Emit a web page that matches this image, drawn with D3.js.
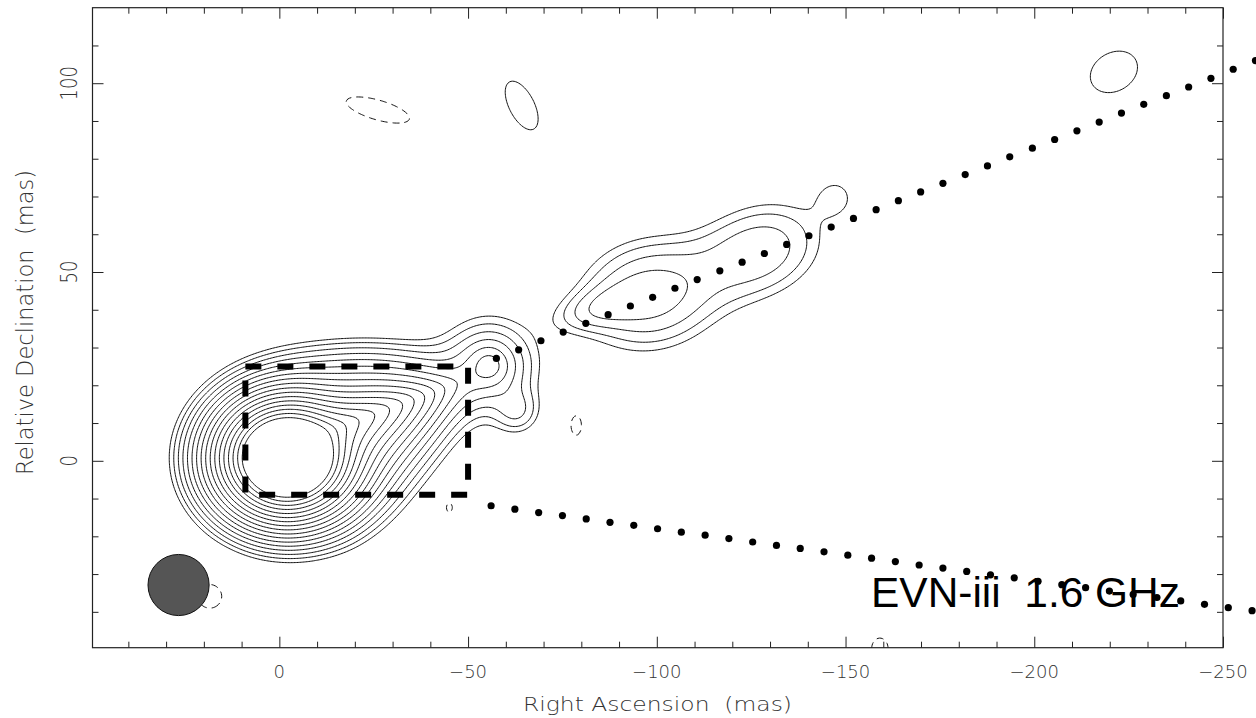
<!DOCTYPE html>
<html>
<head>
<meta charset="utf-8">
<title>EVN-iii 1.6 GHz</title>
<script src="https://d3js.org/d3.v7.min.js"></script>
<style>
  body { margin: 0; background: #fff; }
  svg { display: block; }
</style>
</head>
<body>
<script>
var width = 1256, height = 718;

// contour levels, in units of the lowest contour (the -1 one is drawn dashed)
var posLevels = [1, 1.41, 2, 2.83, 4, 5.66, 8, 11.3, 16, 22.6, 32, 45.3, 64, 90.5, 128, 181, 256];
var negLevels = [1];

// brightness components
// [ra, dec (mas), peak, profile (1 = exponential, 2 = gaussian, 3 = gaussian along / exponential across),
//  size forward, backward, up, down (mas), angle (deg from image right), core softening]
var coreComps = [
  [-2, 0.8, 7330, 1, 3.5, 3.5, 3.1, 3.1, 0, 0],
  [-12, 7.5, 95, 3, 14.5, 10, 3.4, 5.0, 20, 3],
  [-22, 22, 3, 2, 14, 14, 6, 6, 0, 0]
];
var knotComps = [
  [-55.6, 25.3, 6.8, 1, 6, 6, 6, 6, 0, 0.25],
  [-63, 13, 1.5, 2, 4, 4, 4, 4, 0, 0]
];
var jetComps = [
  [-98, 44, 3.3, 2, 12, 12, 9.5, 9.5, 10, 0],
  [-127, 55.5, 2.55, 2, 12, 12, 8.5, 8.5, 20, 0],
  [-85, 40.5, 1.6, 2, 8, 8, 3.5, 3.5, 15, 0],
  [-147.5, 70, 1.05, 2, 4.4, 4.4, 4.4, 4.4, 0, 0]
];
var islandComps = [
  [-26.1, 92.9, -1.3, 2, 12, 12, 3.6, 3.6, -16, 0],
  [-64.2, 94.1, 1.3, 2, 9.7, 9.7, 4.6, 4.6, -63, 0],
  [-221.1, 103.0, 1.3, 2, 9.1, 9.1, 7.0, 7.0, 30, 0],
  [-78.6, 9.5, -1.3, 2, 2.3, 2.3, 4.3, 4.3, 0, 0],
  [-45, -12.3, -1.3, 2, 1.5, 1.5, 2.3, 2.3, 0, 0],
  [18.4, -35.8, -1.3, 2, 4.5, 4.5, 4.5, 4.5, 0, 0],
  [-159.1, -49.7, -1.3, 2, 3, 3, 3.8, 3.8, 0, 0]
];

// model jet path, dots [ra, dec]
var upperDots = [[-57.5,27.1],[-63.4,29.4],[-69.3,31.8],[-75.2,34.1],[-81.2,36.4],[-87.1,38.7],
  [-93.0,41.0],[-98.9,43.3],[-104.8,45.7],[-110.7,48.0],[-116.7,50.3],[-122.6,52.6],[-128.5,54.9],
  [-134.4,57.3],[-140.3,59.6],[-146.2,61.9],[-152.1,64.2],[-158.1,66.5],[-164.0,68.9],[-169.9,71.2],
  [-175.8,73.5],[-181.7,75.8],[-187.6,78.1],[-193.5,80.5],[-199.5,82.8],[-205.4,85.1],[-211.3,87.4],
  [-217.2,89.7],[-223.1,92.1],[-229.0,94.4],[-235.0,96.7],[-240.9,99.0],[-246.8,101.3],[-252.7,103.7],
  [-258.6,106.0]];
var lowerDots = [[-56.1,-11.9],[-62.4,-12.8],[-68.7,-13.7],[-75.0,-14.5],[-81.3,-15.4],[-87.6,-16.3],
  [-93.9,-17.1],[-100.2,-18.0],[-106.5,-18.9],[-112.8,-19.7],[-119.1,-20.6],[-125.4,-21.5],[-131.7,-22.4],
  [-138.0,-23.2],[-144.3,-24.1],[-150.6,-25.0],[-156.9,-25.8],[-163.2,-26.7],[-169.5,-27.6],[-175.8,-28.4],
  [-182.1,-29.3],[-188.4,-30.2],[-194.7,-31.0],[-201.0,-31.9],[-207.3,-32.8],[-213.6,-33.6],[-219.9,-34.5],
  [-226.2,-35.4],[-232.5,-36.2],[-238.8,-37.1],[-245.1,-38.0],[-251.4,-38.9],[-257.7,-39.7]];

var boxCorners = [[9, 25], [-50, -9]];      // ra, dec
var beam = [26.7, -32.9, 8.1];              // ra, dec, radius (mas)

var xMajor = [0, -50, -100, -150, -200, -250];
var xMinor = [40, 30, 20, 10, -10, -20, -30, -40, -60, -70, -80, -90, -110, -120, -130, -140,
  -160, -170, -180, -190, -210, -220, -230, -240];
var yMajor = [0, 50, 100];
var yMinor = [-40, -30, -20, -10, 10, 20, 30, 40, 60, 70, 80, 90, 110];

var svg = d3.select("body").append("svg")
  .attr("width", width)
  .attr("height", height);

var x = d3.scaleLinear().domain([49.5, -250]).range([92.5, 1223]);
var y = d3.scaleLinear().domain([-49.5, 120]).range([647.7, 7.7]);

svg.append("clipPath").attr("id", "frame")
  .append("rect")
  .attr("x", x(49.5)).attr("y", y(120))
  .attr("width", x(-250) - x(49.5)).attr("height", y(-49.5) - y(120));

// brightness grid
var comps = coreComps.concat(knotComps, jetComps, islandComps).map(function(c) {
  var t = c[8] * Math.PI / 180;
  return { ra: c[0], dec: c[1], amp: c[2], p: c[3], af: c[4], ab: c[5], bu: c[6], bd: c[7],
    ct: Math.cos(t), st: Math.sin(t), soft: c[9] };
});

function brightness(ra, dec) {
  var s = 0;
  for (var k = 0; k < comps.length; k++) {
    var c = comps[k];
    var dX = c.ra - ra, dY = dec - c.dec;
    var u = dX * c.ct + dY * c.st, v = -dX * c.st + dY * c.ct;
    var a = u >= 0 ? c.af : c.ab, b = v >= 0 ? c.bu : c.bd;
    if (c.p === 3) {
      var ua = u / a, vs = (Math.sqrt(v * v + c.soft * c.soft) - c.soft) / b;
      if (ua * ua / 2 + vs > 30) continue;
      s += c.amp * Math.exp(-ua * ua / 2 - vs);
      continue;
    }
    var r2 = (u / a) * (u / a) + (v / b) * (v / b);
    if (r2 > 900) continue;
    if (c.p === 1) s += c.amp * Math.exp(-(Math.sqrt(r2 + c.soft * c.soft) - c.soft));
    else s += c.amp * Math.exp(-r2 / 2);
  }
  return s;
}

var step = 0.4, ra0 = 53, dec0 = 124;
var nx = Math.ceil((ra0 + 254) / step), ny = Math.ceil((dec0 + 54) / step);
var grid = new Float64Array(nx * ny);
for (var j = 0; j < ny; j++) {
  for (var i = 0; i < nx; i++) {
    grid[j * nx + i] = brightness(ra0 - i * step, dec0 - j * step);
  }
}

var toPixels = d3.geoTransform({
  point: function(gx, gy) {
    this.stream.point(x(ra0 - (gx - 0.5) * step), y(dec0 - (gy - 0.5) * step));
  }
});
var path = d3.geoPath(toPixels);

var posContours = d3.contours().size([nx, ny]).thresholds(posLevels)(grid);
var negContours = d3.contours().size([nx, ny]).thresholds(negLevels)(grid.map(function(v) { return -v; }));

var cg = svg.append("g").attr("clip-path", "url(#frame)");

cg.selectAll("path.pos")
  .data(posContours)
  .enter()
  .append("path")
  .attr("class", "pos")
  .attr("d", path)
  .attr("fill", "none")
  .attr("stroke", "#111")
  .attr("stroke-width", 1);

cg.selectAll("path.neg")
  .data(negContours)
  .enter()
  .append("path")
  .attr("class", "neg")
  .attr("d", path)
  .attr("fill", "none")
  .attr("stroke", "#111")
  .attr("stroke-width", 1)
  .attr("stroke-dasharray", "7,5");

// dashed box
cg.append("rect")
  .attr("x", x(boxCorners[0][0]))
  .attr("y", y(boxCorners[0][1]))
  .attr("width", x(boxCorners[1][0]) - x(boxCorners[0][0]))
  .attr("height", y(boxCorners[1][1]) - y(boxCorners[0][1]))
  .attr("fill", "none")
  .attr("stroke", "#000")
  .attr("stroke-width", 6)
  .attr("stroke-dasharray", "16,16");

// restoring beam
cg.append("circle")
  .attr("cx", x(beam[0]))
  .attr("cy", y(beam[1]))
  .attr("r", x(0) - x(beam[2]))
  .attr("fill", "#555")
  .attr("stroke", "#111")
  .attr("stroke-width", 1);

// label
svg.append("text")
  .attr("x", 871)
  .attr("y", 607)
  .attr("textLength", 309)
  .attr("lengthAdjust", "spacingAndGlyphs")
  .style("white-space", "pre")
  .attr("font-family", "'Liberation Sans', Arial, sans-serif")
  .attr("font-size", 42)
  .attr("fill", "#000")
  .text("EVN-iii  1.6 GHz");

// dots (not clipped)
svg.selectAll("circle.dot")
  .data(upperDots.concat(lowerDots))
  .enter()
  .append("circle")
  .attr("class", "dot")
  .attr("cx", function(d) { return x(d[0]); })
  .attr("cy", function(d) { return y(d[1]); })
  .attr("r", 3.6)
  .attr("fill", "#000");

// frame and ticks
var tickFont = "'DejaVu Sans', sans-serif";

function ticks(axis, tx, ty, size, values) {
  var g = svg.append("g")
    .attr("transform", "translate(" + tx + "," + ty + ")")
    .call(axis.tickValues(values).tickSize(-size).tickFormat(""));
  g.select(".domain").remove();
  g.selectAll("line").attr("stroke", "#222");
  return g;
}

ticks(d3.axisBottom(x), 0, y(-49.5), 11, xMajor);
ticks(d3.axisBottom(x), 0, y(-49.5), 6, xMinor);
ticks(d3.axisTop(x), 0, y(120), 11, xMajor);
ticks(d3.axisTop(x), 0, y(120), 6, xMinor);
ticks(d3.axisLeft(y), x(49.5), 0, 11, yMajor);
ticks(d3.axisLeft(y), x(49.5), 0, 6, yMinor);
ticks(d3.axisRight(y), x(-250), 0, 11, yMajor);
ticks(d3.axisRight(y), x(-250), 0, 6, yMinor);

svg.append("rect")
  .attr("x", x(49.5)).attr("y", y(120))
  .attr("width", x(-250) - x(49.5)).attr("height", y(-49.5) - y(120))
  .attr("fill", "none")
  .attr("stroke", "#222")
  .attr("stroke-width", 1.2);

var fmt = d3.format("");

svg.selectAll("text.xl")
  .data(xMajor)
  .enter()
  .append("text")
  .attr("class", "xl")
  .attr("x", function(d) { return x(d); })
  .attr("y", 677.5)
  .attr("text-anchor", "middle")
  .attr("font-family", tickFont)
  .attr("font-weight", 200)
  .attr("font-size", 18)
  .attr("fill", "#333")
  .text(fmt);

svg.selectAll("text.yl")
  .data(yMajor)
  .enter()
  .append("text")
  .attr("class", "yl")
  .attr("transform", function(d) { return "translate(77," + y(d) + ") rotate(-90) scale(1,1.25)"; })
  .attr("text-anchor", "middle")
  .attr("font-family", tickFont)
  .attr("font-weight", 200)
  .attr("font-size", 18)
  .attr("fill", "#333")
  .text(fmt);

svg.append("text")
  .attr("x", 523)
  .attr("y", 711)
  .attr("textLength", 269)
  .attr("lengthAdjust", "spacingAndGlyphs")
  .style("white-space", "pre")
  .attr("font-family", tickFont)
  .attr("font-weight", 200)
  .attr("font-size", 19)
  .attr("fill", "#333")
  .text("Right Ascension  (mas)");

svg.append("text")
  .attr("transform", "translate(33,475) rotate(-90) scale(1,1.25)")
  .attr("textLength", 305)
  .attr("lengthAdjust", "spacingAndGlyphs")
  .style("white-space", "pre")
  .attr("font-family", tickFont)
  .attr("font-weight", 200)
  .attr("font-size", 19)
  .attr("fill", "#333")
  .text("Relative Declination  (mas)");
</script>
</body>
</html>
